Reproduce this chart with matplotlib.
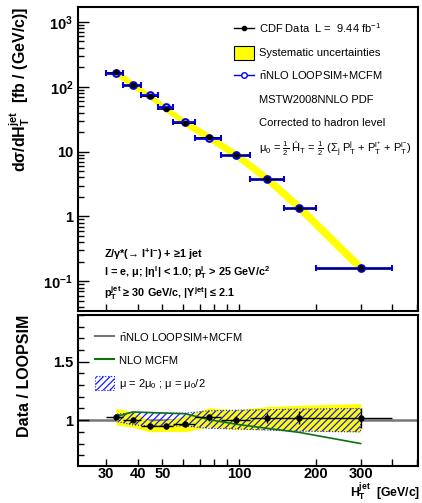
import matplotlib
matplotlib.use('Agg')
import matplotlib.pyplot as plt
from matplotlib.lines import Line2D
from matplotlib.patches import Patch
import numpy as np

plt.rcParams['font.family'] = ['Liberation Sans', 'DejaVu Sans']
plt.rcParams['mathtext.default'] = 'regular'
plt.rcParams['hatch.linewidth'] = 0.9

# HT^jet bins [GeV/c]
bin_lo = [30, 35, 41, 48, 55, 67, 85, 110, 150, 200]
bin_hi = [35, 41, 48, 55, 67, 85, 110, 150, 200, 400]
ht = [32.8, 38.2, 44.7, 51.8, 61.4, 75.9, 97.5, 128.8, 172.6, 300]

# cross sections [fb/(GeV/c)]
data_xs = [169, 107, 71, 45.7, 27.8, 16.9, 8.9, 3.84, 1.37, 0.162]
data_err = [4, 2.5, 1.5, 1.0, 0.7, 0.5, 0.3, 0.16, 0.08, 0.013]
loopsim_xs = [164, 106.5, 75, 48, 28.7, 16.5, 8.87, 3.76, 1.34, 0.159]
syst = [0.07, 0.065, 0.05, 0.05, 0.07, 0.08, 0.085, 0.095, 0.105, 0.12]

# ratio panel
ratio = [1.031, 1.005, 0.947, 0.952, 0.969, 1.023, 1.003, 1.02, 1.02, 1.02]
ratio_err = [0.025, 0.025, 0.025, 0.025, 0.025, 0.03, 0.03, 0.042, 0.056, 0.084]
scale_up = [1.05, 1.065, 1.065, 1.06, 1.06, 1.08, 1.085, 1.09, 1.095, 1.10]
scale_dn = [0.99, 0.96, 0.95, 0.95, 0.95, 0.93, 0.925, 0.915, 0.905, 0.90]
nlo_mcfm = [1.03, 1.07, 1.065, 1.06, 1.055, 1.005, 0.965, 0.93, 0.895, 0.80]

x = np.array(ht)
xerr = [x - np.array(bin_lo), np.array(bin_hi) - x]
y = np.array(data_xs)
s = np.array(syst)
r = np.array(ratio)

fig = plt.figure(figsize=(4.22, 5.03), dpi=100)
ax1 = fig.add_axes([0.185, 0.382, 0.806, 0.604])
ax2 = fig.add_axes([0.185, 0.074, 0.806, 0.300], sharex=ax1)

# ---- top panel
ax1.fill_between(x, y * (1 - s), y * (1 + s), color='#ffff00', lw=2.2, edgecolor='#ffff00', zorder=1)
ax1.errorbar(x, loopsim_xs, xerr=xerr, fmt='o', color='#0000ee', mfc='none', mec='#0000ee',
             ms=4.8, mew=1.5, elinewidth=2, capsize=2, capthick=1.2, zorder=2)
ax1.errorbar(x, y, yerr=data_err, xerr=xerr, fmt='o', color='black', ms=3, elinewidth=0.6,
             capsize=0, zorder=3)

ax1.set_xscale('log')
ax1.set_yscale('log')
ax1.set_xlim(23.3, 505)
ax1.set_ylim(0.035, 1700)
ax1.set_yticks([0.1, 1, 10, 100, 1000], ['10$^{-1}$', '1', '10', '10$^{2}$', '10$^{3}$'])
ax1.set_ylabel('d\u03c3/dH$_{T}^{jet}$  [fb / (GeV/c)]', fontsize=11.5, fontweight='bold', loc='top')
ax1.yaxis.set_label_coords(-0.135, 1.0)

h_data = Line2D([], [], color='black', marker='o', ms=3, lw=1)
h_syst = Patch(facecolor='#ffff00', edgecolor='black', lw=0.8)
h_nnlo = Line2D([], [], color='#0000ee', marker='o', ms=4, mfc='white', lw=1)
h_none = Line2D([], [], color='none')
ax1.legend([h_data, h_syst, h_nnlo, h_none, h_none, h_none],
           ['CDF Data  L =  9.44 fb$^{-1}$', 'Systematic uncertainties',
            r'$\bar{n}$NLO LOOPSIM+MCFM', 'MSTW2008NNLO PDF', 'Corrected to hadron level',
            '\u03bc$_{0}$ = $\\frac{1}{2}$ \u0124$_{T}$ = $\\frac{1}{2}$ (\u03a3$_{j}$ P$_{T}^{j}$ + P$_{T}^{l^{+}}$ + P$_{T}^{l^{-}}$)'],
           loc='upper right', bbox_to_anchor=(1.0, 0.975), frameon=False, fontsize=8,
           labelspacing=0.88, handlelength=1.75, handleheight=1.5, handletextpad=0.5,
           borderaxespad=0.2)

ax1.text(0.075, 0.1875, 'Z/\u03b3*(\u2192 l$^{+}$l$^{-}$) + \u22651 jet', transform=ax1.transAxes,
         fontsize=7.8, fontweight='bold', va='center')
ax1.text(0.075, 0.125, 'l = e, \u03bc; |\u03b7$^{l}$| < 1.0; p$_{T}^{l}$ > 25 GeV/c$^{2}$', transform=ax1.transAxes,
         fontsize=7.8, fontweight='bold', va='center')
ax1.text(0.075, 0.059, 'p$_{T}^{jet}$ \u2265 30 GeV/c, |Y$^{jet}$| \u2264 2.1', transform=ax1.transAxes,
         fontsize=7.8, fontweight='bold', va='center')

# ---- ratio panel
ax2.axhline(1.0, color='#777777', lw=1.8, zorder=1)
ax2.fill_between(x, r * (1 - s), r * (1 + s), color='#ffff00', lw=0, zorder=2)
ax2.fill_between(x, scale_dn, scale_up, facecolor='none', edgecolor='#1a1aff', hatch='/////',
                 lw=0.8, linestyle=':', zorder=3)
ax2.plot(x, nlo_mcfm, color='#107010', lw=1.2, zorder=4)
ax2.errorbar(x, r, yerr=ratio_err, xerr=xerr, fmt='o', color='black', ms=3.5, elinewidth=1,
             capsize=0, zorder=5)

ax2.set_ylim(0.61, 1.9)
ax2.set_yticks([1.0, 1.5], ['1', '1.5'])
ax2.set_yticks(np.arange(0.7, 1.95, 0.1), minor=True)
ax2.set_ylabel('Data / LOOPSIM', fontsize=11.5, fontweight='bold', loc='top')
ax2.yaxis.set_label_coords(-0.135, 1.0)
ax2.set_xlabel('H$_{T}^{jet}$  [GeV/c]', fontsize=8.8, fontweight='bold', loc='right')
ax2.xaxis.set_label_coords(1.005, -0.247)
ax2.xaxis.label.set_va('bottom')

ax2.set_xticks([30, 40, 50, 100, 200, 300], ['30', '40', '50', '100', '200', '300'])
ax2.set_xticks([60, 70, 80, 90, 400, 500], minor=True)
ax2.xaxis.set_minor_formatter(plt.NullFormatter())

h_g = Line2D([], [], color='#777777', lw=1.5)
h_n = Line2D([], [], color='#107010', lw=1.5)
h_s = Patch(facecolor='none', edgecolor='#1a1aff', hatch='/////', lw=0.8, linestyle=':')
ax2.legend([h_g, h_n, h_s], [r'$\bar{n}$NLO LOOPSIM+MCFM', 'NLO MCFM',
                             '\u03bc = 2\u03bc$_{0}$ ; \u03bc = \u03bc$_{0}$/2'],
           loc='upper left', bbox_to_anchor=(0.02, 0.96), frameon=False, fontsize=8,
           labelspacing=0.75, handlelength=1.7, handleheight=1.6, handletextpad=0.5)

for ax in (ax1, ax2):
    for sp in ax.spines.values():
        sp.set_linewidth(1.5)
    ax.tick_params(which='major', direction='in', length=8, width=1, labelsize=10.5)
    ax.tick_params(which='minor', direction='in', length=4, width=1)
    for lab in ax.get_yticklabels() + ax.get_xticklabels():
        lab.set_fontweight('bold')
ax1.set_xticks([30, 40, 50, 100, 200, 300])
ax1.set_xticks([60, 70, 80, 90, 400, 500], minor=True)
ax1.tick_params(axis='x', which='both', labelbottom=False, length=5)
ax2.tick_params(axis='x', which='both', length=5, pad=1)

fig.savefig('out.png', dpi=100)
